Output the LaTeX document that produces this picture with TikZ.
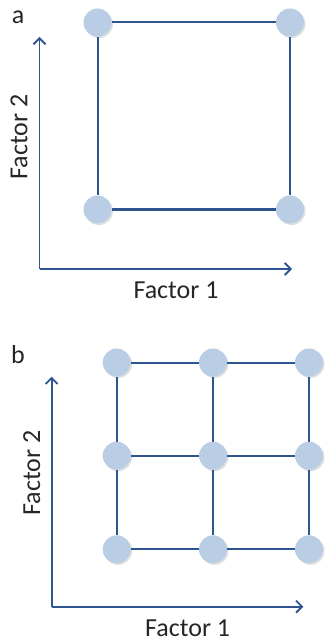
\documentclass[tikz,border=0pt]{standalone}
\usepackage{fontspec}
\setmainfont{Carlito}
\usetikzlibrary{arrows.meta,shadows}
\definecolor{linkblue}{RGB}{47,85,145}
\definecolor{dotblue}{RGB}{185,205,228}
\tikzset{
  level/.style={circle,fill=dotblue,minimum size=28pt,inner sep=0pt,
    drop shadow={shadow xshift=1.5pt,shadow yshift=-1.5pt,opacity=0.25}},
  link/.style={draw=linkblue,line width=2pt},
  axis/.style={draw=linkblue,line width=1.8pt,-{Straight Barb[length=6pt,width=12pt]}},
  lab/.style={font=\fontsize{26}{30}\selectfont,text=black!85}
}
\begin{document}
\begin{tikzpicture}[x=1pt,y=-1pt]
  \useasboundingbox (0,0) rectangle (325,644);

  % two level design
  \node [lab] (a) at (18,17) {a};
  \node [level] (A1) at (97.5,22.5) {};
  \node [level] (A2) at (290,22.5) {};
  \node [level] (A3) at (97.5,209.5) {};
  \node [level] (A4) at (290,209.5) {};
  \draw [link] (A1) -- (A2);
  \draw [link] (A1) -- (A3);
  \draw [link] (A2) -- (A4);
  \draw [link] (A3) -- (A4);

  \coordinate (Oa) at (39.5,269);
  \coordinate (Xa) at (292,269);
  \coordinate (Ya) at (39.5,37);
  \draw [axis] (Oa) -- (Xa);
  \draw [axis] (Oa) -- (Ya);
  \node [lab] (Fa1) at (176,290) {Factor 1};
  \node [lab,rotate=90] (Fa2) at (19,137) {Factor 2};

  % three level design
  \node [lab] (b) at (18,355) {b};
  \node [level] (B11) at (116.7,362.5) {};
  \node [level] (B12) at (213,362.5) {};
  \node [level] (B13) at (309,362.5) {};
  \node [level] (B21) at (116.7,455.7) {};
  \node [level] (B22) at (213,455.7) {};
  \node [level] (B23) at (309,455.7) {};
  \node [level] (B31) at (116.7,549.3) {};
  \node [level] (B32) at (213,549.3) {};
  \node [level] (B33) at (309,549.3) {};
  \draw [link] (B11) -- (B12);
  \draw [link] (B12) -- (B13);
  \draw [link] (B21) -- (B22);
  \draw [link] (B22) -- (B23);
  \draw [link] (B31) -- (B32);
  \draw [link] (B32) -- (B33);
  \draw [link] (B11) -- (B21);
  \draw [link] (B21) -- (B31);
  \draw [link] (B12) -- (B22);
  \draw [link] (B22) -- (B32);
  \draw [link] (B13) -- (B23);
  \draw [link] (B23) -- (B33);

  \coordinate (Ob) at (51.7,606.7);
  \coordinate (Xb) at (303.3,606.7);
  \coordinate (Yb) at (51.7,376.7);
  \draw [axis] (Ob) -- (Xb);
  \draw [axis] (Ob) -- (Yb);
  \node [lab] (Fb1) at (187.7,628) {Factor 1};
  \node [lab,rotate=90] (Fb2) at (31.7,473) {Factor 2};
\end{tikzpicture}
\end{document}
